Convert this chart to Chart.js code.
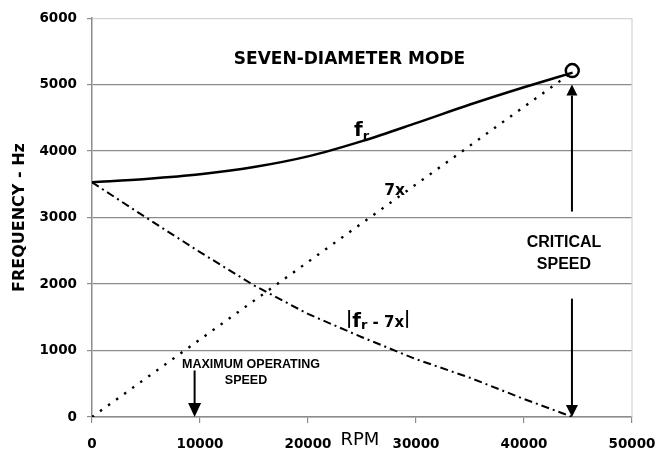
<!DOCTYPE html>
<html>
<head>
<meta charset="utf-8">
<script src="https://cdn.jsdelivr.net/npm/chart.js@4.4.1/dist/chart.umd.min.js"></script>
<style>
  body { margin: 0; background: #fff; }
  canvas { display: block; }
</style>
</head>
<body>
<canvas id="chart" width="655" height="451"></canvas>
<script>
// values
const rpm    = [0, 5000, 10000, 15000, 20000, 25000, 30000, 35000, 40000, 44500];
const frHz   = [3530, 3580, 3650, 3760, 3920, 4150, 4420, 4700, 4960, 5180];
const diffHz = [3530, 3000, 2480, 1980, 1550, 1200, 870, 590, 270, 0];
const sevenXRpm = [0, 44500];
const sevenXHz  = [0, 5190];
const criticalRpm = 44470;
const criticalHz  = 5210;
const xTicks = [0, 10000, 20000, 30000, 40000, 50000];
const yTicks = [0, 1000, 2000, 3000, 4000, 5000, 6000];

// annotations, in data units (rpm, Hz)
const arrows = [
  { rpm: 44440, from: 3090, to: 5000, head: 11, wide: 11 },
  { rpm: 44440, from: 1780, to: 0,    head: 12, wide: 12 },
  { rpm: 9500,  from: 700,  to: 0,    head: 14, wide: 13 },
];
const notes = [
  { text: 'SEVEN-DIAMETER MODE', rpm: 23840, hz: 5303, font: 'bold 17px "DejaVu Sans"' },
  { text: 'CRITICAL',            rpm: 43700, hz: 2557, font: 'bold 16px "Liberation Sans"' },
  { text: 'SPEED',               rpm: 43700, hz: 2228, font: 'bold 16px "Liberation Sans"' },
  { text: 'MAXIMUM OPERATING',   rpm: 14720, hz: 742,  font: 'bold 12.5px "Liberation Sans"' },
  { text: 'SPEED',               rpm: 14260, hz: 503,  font: 'bold 12.5px "Liberation Sans"' },
  { text: 'RPM',                 rpm: 24810, hz: -418, font: '18px "DejaVu Sans"' },
];
// labels made of several runs (text, font, baseline shift in px)
const runLabels = [
  { rpm: 24260, hz: 4234, runs: [
    ['f', 'bold 20px "DejaVu Sans"', 0],
    ['r', 'bold 13px "DejaVu Sans"', 4.4],
  ]},
  { rpm: 27060, hz: 3339, runs: [
    ['7x', 'bold 15.5px "DejaVu Sans"', 0],
  ]},
  { rpm: 23520, hz: 1358, runs: [
    ['|', 'bold 17px "DejaVu Sans"', -3],
    ['f', 'bold 20px "DejaVu Sans"', 0],
    ['r', 'bold 13px "DejaVu Sans"', 2.4],
    [' - 7x', 'bold 15px "DejaVu Sans"', 0],
    ['|', 'bold 17px "DejaVu Sans"', -3],
  ]},
];

const pts = (xs, ys) => xs.map((v, i) => ({ x: v, y: ys[i] }));
const GRID = '#8c8c8c';
const LIGHT = '#d4d4d4';
const tickFont = { family: 'DejaVu Sans', size: 13.5, weight: 'bold' };

const decorations = {
  id: 'decorations',
  beforeDatasetsDraw(chart) {
    const { ctx, chartArea: a } = chart;
    ctx.save();
    ctx.strokeStyle = LIGHT;
    ctx.lineWidth = 1.2;
    ctx.beginPath();
    ctx.moveTo(a.right, a.top);
    ctx.lineTo(a.right, a.bottom);
    ctx.stroke();
    ctx.restore();
  },
  afterDraw(chart) {
    const { ctx, scales: { x, y } } = chart;
    ctx.save();
    ctx.fillStyle = '#000';
    ctx.strokeStyle = '#000';

    arrows.forEach(a => {
      const px = x.getPixelForValue(a.rpm);
      const y0 = y.getPixelForValue(a.from);
      const y1 = y.getPixelForValue(a.to);
      const dir = y1 > y0 ? 1 : -1;
      ctx.lineWidth = 2;
      ctx.beginPath();
      ctx.moveTo(px, y0);
      ctx.lineTo(px, y1 - dir * a.head);
      ctx.stroke();
      ctx.beginPath();
      ctx.moveTo(px, y1);
      ctx.lineTo(px - a.wide / 2, y1 - dir * a.head);
      ctx.lineTo(px + a.wide / 2, y1 - dir * a.head);
      ctx.closePath();
      ctx.fill();
    });

    ctx.textAlign = 'center';
    ctx.textBaseline = 'alphabetic';
    notes.forEach(n => {
      ctx.font = n.font;
      ctx.fillText(n.text, x.getPixelForValue(n.rpm), y.getPixelForValue(n.hz));
    });

    ctx.textAlign = 'left';
    runLabels.forEach(l => {
      let px = x.getPixelForValue(l.rpm);
      const base = y.getPixelForValue(l.hz);
      l.runs.forEach(([t, f, dy]) => {
        ctx.font = f;
        ctx.fillText(t, px, base + dy);
        px += ctx.measureText(t).width;
      });
    });
    ctx.restore();
  }
};

new Chart(document.getElementById('chart'), {
  type: 'scatter',
  data: {
    datasets: [
      {
        label: 'critical',
        data: [{ x: criticalRpm, y: criticalHz }],
        showLine: false,
        pointRadius: 6.5,
        pointBorderWidth: 2.5,
        pointBorderColor: '#000',
        pointBackgroundColor: 'rgba(0,0,0,0)',
      },
      {
        label: 'fr',
        data: pts(rpm, frHz),
        showLine: true,
        borderColor: '#000',
        borderWidth: 2.5,
        pointRadius: 0,
        cubicInterpolationMode: 'monotone',
      },
      {
        label: '7x',
        data: pts(sevenXRpm, sevenXHz),
        showLine: true,
        borderColor: '#000',
        borderWidth: 2.4,
        borderDash: [2.4, 7.5],
        pointRadius: 0,
      },
      {
        label: '|fr - 7x|',
        data: pts(rpm, diffHz),
        showLine: true,
        borderColor: '#000',
        borderWidth: 2,
        borderDash: [8, 4, 2, 4],
        pointRadius: 0,
      },
    ],
  },
  options: {
    responsive: false,
    animation: false,
    devicePixelRatio: 1,
    layout: { padding: { left: 6, top: 15, right: 23, bottom: 0 } },
    plugins: { legend: { display: false }, tooltip: { enabled: false } },
    scales: {
      x: {
        type: 'linear',
        min: 0,
        max: 50000,
        afterBuildTicks: s => { s.ticks = xTicks.map(v => ({ value: v })); },
        afterFit: s => { s.height = 34; s.paddingLeft = 0; s.paddingRight = 0; },
        ticks: { color: '#000', font: tickFont, padding: 13, maxRotation: 0, callback: v => String(v) },
        grid: { drawOnChartArea: false, color: GRID, tickLength: 6, lineWidth: 1.2 },
        border: { color: GRID, width: 1.5 },
      },
      y: {
        min: 0,
        max: 6000,
        afterBuildTicks: s => { s.ticks = yTicks.map(v => ({ value: v })); },
        afterFit: s => { s.width = 86; },
        ticks: { color: '#000', font: tickFont, padding: 10, callback: v => String(v) },
        grid: {
          color: c => c.tick && c.tick.value === 6000 ? LIGHT : GRID,
          tickColor: GRID,
          tickLength: 5,
          lineWidth: 1.2,
        },
        border: { color: GRID, width: 1.5 },
        title: {
          display: true,
          text: 'FREQUENCY - Hz',
          color: '#000',
          font: { family: 'DejaVu Sans', size: 16, weight: 'bold' },
          padding: { top: 4, bottom: 0 },
        },
      },
    },
  },
  plugins: [decorations],
});
</script>
</body>
</html>
